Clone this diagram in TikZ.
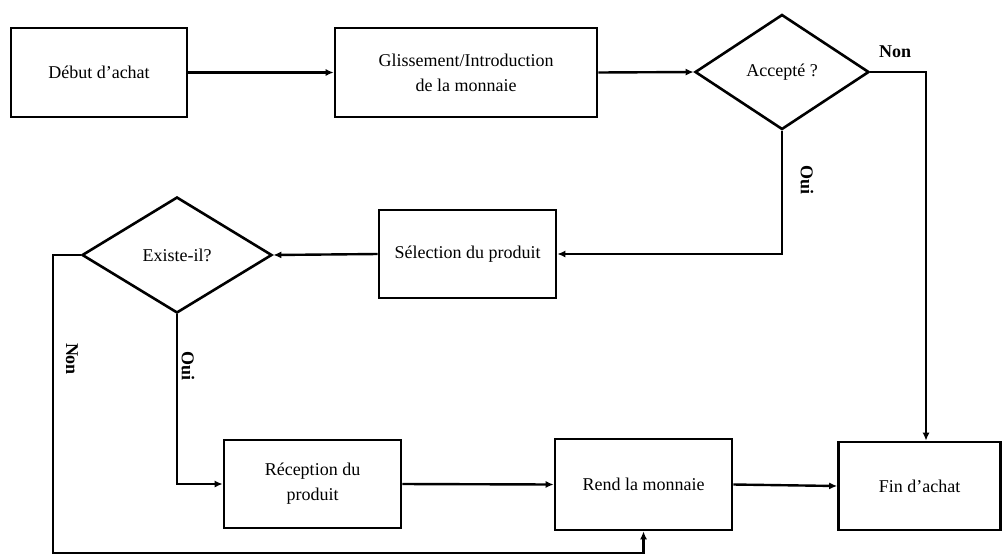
\documentclass[tikz,border=0pt]{standalone}
\usepackage{fontspec}
\setmainfont{Liberation Serif}
\usetikzlibrary{shapes.geometric,arrows.meta}
\begin{document}
\begin{tikzpicture}[x=1pt,y=-1pt,
  every node/.style={font=\fontsize{18}{25}\selectfont},
  stepbox/.style={draw,line width=2.6pt,rectangle,inner sep=0pt,align=center},
  decision/.style={draw,line width=2.6pt,diamond,inner sep=0pt,align=center},
  link/.style={line width=2.4pt},
  arrowlink/.style={link,-{Latex[length=8pt,width=7pt]}},
  branch/.style={font=\fontsize{18}{22}\selectfont\bfseries}]
\useasboundingbox (0,0) rectangle (1003,555);

% process boxes and decisions
\node[stepbox,minimum width=176pt,minimum height=89pt] (debut) at (99,72.5) {Début d’achat};
\node[stepbox,minimum width=262pt,minimum height=89pt] (gliss) at (466,72.5) {Glissement/Introduction\\de la monnaie};
\node[decision,minimum width=174pt,minimum height=115pt] (accepte) at (782,72) {Accepté ?};
\node[stepbox,minimum width=177pt,minimum height=88pt] (selection) at (467.5,254) {Sélection du produit};
\node[decision,minimum width=190pt,minimum height=116pt] (existe) at (177,255) {Existe-il?};
\node[stepbox,minimum width=177pt,minimum height=88pt] (reception) at (312.5,484) {Réception du\\produit};
\node[stepbox,minimum width=177pt,minimum height=91pt] (rend) at (643.5,484.5) {Rend la monnaie};
\node[stepbox,minimum width=162pt,minimum height=88pt] (fin) at (919.5,486) {Fin d’achat};

% corner points of the routed connectors
\coordinate (refus) at (926,72);
\coordinate (absent) at (53,553);

% main flow
\draw[arrowlink] (debut.east) -- (gliss.west);
\draw[arrowlink] (gliss.east) -- (accepte.west);
\draw[arrowlink] (accepte.south) |- (selection.east);
\draw[arrowlink] (selection.west) -- (existe.east);
\draw[arrowlink] (existe.south) |- (reception.west);
\draw[arrowlink] (reception.east) -- (rend.west);
\draw[arrowlink] (rend.east) -- (fin.west);

% refusal and missing-product branches
\draw[arrowlink] (accepte.east) -- (refus) -- (refus |- fin.north);
\draw[arrowlink] (existe.west) -| (absent) -| (rend.south);

% branch labels
\node[branch] (nonA) at (895,52) {Non};
\node[branch,rotate=-90] (ouiA) at (807,180) {Oui};
\node[branch,rotate=-90] (nonB) at (72,359) {Non};
\node[branch,rotate=-90] (ouiB) at (188,366) {Oui};
\end{tikzpicture}
\end{document}
